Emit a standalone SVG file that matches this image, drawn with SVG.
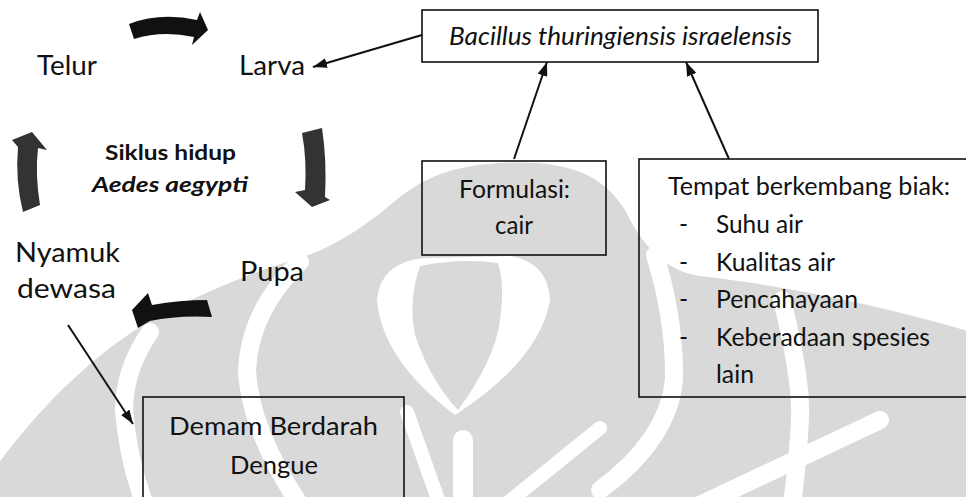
<svg xmlns="http://www.w3.org/2000/svg" width="966" height="497" viewBox="0 0 966 497">
<defs>
<style>
.t{font-family:Lato,"Open Sans","Liberation Sans",sans-serif;fill:#111;}
.big{font-size:27px;}
.box{font-size:24.5px;}
.lbl{font-size:21px;font-weight:bold;}
.box-r{fill:none;stroke:#111;stroke-width:1.6;}
.conn{fill:none;stroke:#111;stroke-width:2;}
.wm{fill:#d9d9d9;}
.wmw{fill:none;stroke:#fff;stroke-linecap:round;}
</style>
<marker id="ah" viewBox="0 0 14 10" refX="14" refY="5" markerWidth="14" markerHeight="10" markerUnits="userSpaceOnUse" orient="auto">
<path d="M0,0 L14,5 L0,10 Z" fill="#111"/>
</marker>
</defs>
<rect width="966" height="497" fill="#fff"/>
<g id="watermark">
<path class="wm" d="M-5,497 L-5,468 C30,420 80,365 140,327 C190,298 250,272 300,258 C340,245 370,222 400,197 C425,178 450,166 500,163 C560,160 600,170 625,210 C640,240 660,270 700,276 C780,285 880,305 971,332 L971,497 Z"/>
<path fill="#fff" d="M425,258 Q380,262 377,300 Q382,360 455,415 Q540,360 550,300 Q548,262 510,256 Z"/>
<path class="wm" d="M420,266 Q408,300 415,335 Q430,380 458,410 Q495,360 500,320 Q505,285 498,263 Q460,258 420,266 Z"/>
<rect x="453" y="430" width="20" height="75" rx="10" fill="#fff"/>
<path class="wmw" stroke-width="18" d="M300,262 Q250,310 247,370 Q250,430 300,505"/>
<path class="wmw" stroke-width="18" d="M150,332 Q124,370 124,410 Q128,460 145,505"/>
<path class="wmw" stroke-width="18" d="M655,255 Q675,320 674,380 Q668,440 600,490"/>
<path class="wmw" stroke-width="18" d="M782,300 Q802,380 800,420 Q798,460 792,505"/>
<path class="wmw" stroke-width="14" d="M407,412 L440,505"/>
<path class="wmw" stroke-width="14" d="M600,428 L505,505"/>
<path class="wmw" stroke-width="18" d="M700,505 L880,420"/>
</g>
<g id="cycle-arrows">
<path fill="#111" d="M129,24 Q160,12 197,20 L200,12 L208,30 L192,45 L194,37 Q162,30 134,39 Z"/>
<path fill="#333" d="M302,133 Q307,160 305,190 L295,192 L312,207 L330,200 L325,197 Q327,160 322,128 Z"/>
<path fill="#111" d="M207,300 Q180,300 152,305 L148,293 L132,310 L138,328 L150,321 Q178,315 212,317 Z"/>
<path fill="#333" d="M23,212 Q15,180 18,147 L12,140 L32,132 L47,150 L38,148 Q35,175 40,205 Z"/>
</g>
<g id="node-telur"><text class="t big" x="37" y="75" textLength="60" lengthAdjust="spacingAndGlyphs">Telur</text></g>
<g id="node-larva"><text class="t big" x="239" y="75" textLength="66" lengthAdjust="spacingAndGlyphs">Larva</text></g>
<g id="node-pupa"><text class="t big" x="240" y="281" textLength="64" lengthAdjust="spacingAndGlyphs">Pupa</text></g>
<g id="node-nyamuk">
<text class="t big" x="15" y="262" textLength="105" lengthAdjust="spacingAndGlyphs">Nyamuk</text>
<text class="t big" x="17" y="298" textLength="99" lengthAdjust="spacingAndGlyphs">dewasa</text>
</g>
<g id="node-siklus">
<text class="t lbl" x="105" y="160" textLength="131" lengthAdjust="spacingAndGlyphs">Siklus hidup</text>
<text class="t lbl" x="92" y="192" font-style="italic" textLength="156" lengthAdjust="spacingAndGlyphs">Aedes aegypti</text>
</g>
<g id="node-bti">
<rect class="box-r" x="422" y="10" width="396" height="52"/>
<text class="t box" x="449" y="45" font-style="italic" textLength="343" lengthAdjust="spacingAndGlyphs">Bacillus thuringiensis israelensis</text>
</g>
<g id="node-formulasi">
<rect class="box-r" x="422" y="161" width="184" height="94"/>
<text class="t box" x="459" y="198" textLength="111" lengthAdjust="spacingAndGlyphs">Formulasi:</text>
<text class="t box" x="495" y="234" textLength="38" lengthAdjust="spacingAndGlyphs">cair</text>
</g>
<g id="node-tempat">
<rect class="box-r" x="639" y="159" width="340" height="238"/>
<text class="t box" x="668" y="195" textLength="282" lengthAdjust="spacingAndGlyphs">Tempat berkembang biak:</text>
<text class="t box" x="679" y="233">-</text>
<text class="t box" x="716" y="233" textLength="87" lengthAdjust="spacingAndGlyphs">Suhu air</text>
<text class="t box" x="679" y="271">-</text>
<text class="t box" x="716" y="271" textLength="119" lengthAdjust="spacingAndGlyphs">Kualitas air</text>
<text class="t box" x="679" y="308">-</text>
<text class="t box" x="716" y="308" textLength="142" lengthAdjust="spacingAndGlyphs">Pencahayaan</text>
<text class="t box" x="679" y="346">-</text>
<text class="t box" x="716" y="346" textLength="214" lengthAdjust="spacingAndGlyphs">Keberadaan spesies</text>
<text class="t box" x="716" y="383" textLength="38" lengthAdjust="spacingAndGlyphs">lain</text>
</g>
<g id="node-dbd">
<rect class="box-r" x="143" y="397" width="261" height="120"/>
<text class="t box" x="169" y="435" textLength="209" lengthAdjust="spacingAndGlyphs">Demam Berdarah</text>
<text class="t box" x="230" y="474" textLength="88" lengthAdjust="spacingAndGlyphs">Dengue</text>
</g>
<g id="connectors">
<path class="conn" d="M422,35 L313,67" marker-end="url(#ah)"/>
<path class="conn" d="M514,159 L547,62" marker-end="url(#ah)"/>
<path class="conn" d="M729,159 L686,62" marker-end="url(#ah)"/>
<path class="conn" stroke-width="1.6" d="M68,325 L133,424" marker-end="url(#ah)"/>
</g>
</svg>
